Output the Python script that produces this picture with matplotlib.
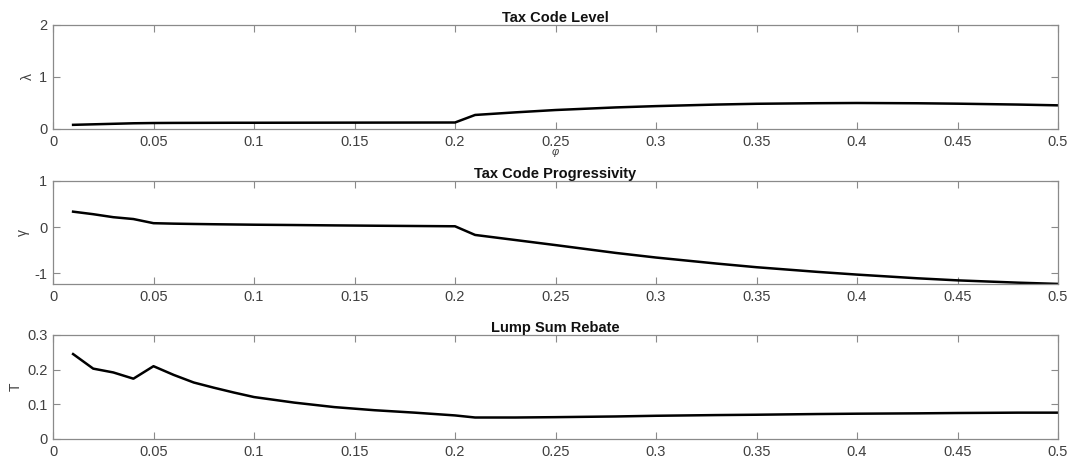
import numpy as np
import matplotlib
matplotlib.use('Agg')
import matplotlib.pyplot as plt

# phi grid
phi = [0.01, 0.02, 0.03, 0.04, 0.05, 0.06, 0.07, 0.08, 0.09, 0.10,
       0.12, 0.14, 0.16, 0.18, 0.20, 0.21, 0.23, 0.25, 0.28, 0.30,
       0.33, 0.35, 0.38, 0.40, 0.43, 0.45, 0.48, 0.50]

# tax code level lambda
lam = [0.080, 0.090, 0.100, 0.110, 0.115, 0.117, 0.118, 0.119, 0.120, 0.120,
       0.121, 0.122, 0.123, 0.124, 0.125, 0.270, 0.320, 0.365, 0.415, 0.440,
       0.470, 0.485, 0.496, 0.500, 0.495, 0.487, 0.470, 0.455]

# tax code progressivity gamma
gam = [0.335, 0.280, 0.215, 0.175, 0.085, 0.075, 0.068, 0.062, 0.057, 0.052,
       0.045, 0.037, 0.030, 0.024, 0.018, -0.170, -0.280, -0.390, -0.560, -0.660,
       -0.790, -0.870, -0.970, -1.030, -1.110, -1.155, -1.205, -1.232]

# lump sum rebate T
rebate = [0.245, 0.203, 0.192, 0.174, 0.210, 0.185, 0.163, 0.148, 0.134, 0.121,
          0.105, 0.092, 0.083, 0.076, 0.068, 0.062, 0.062, 0.063, 0.065, 0.067,
          0.069, 0.070, 0.072, 0.073, 0.074, 0.075, 0.076, 0.076]

plt.rcParams['font.family'] = ['Liberation Sans', 'DejaVu Sans']

fig = plt.figure(figsize=(10.77, 4.70), dpi=100)

left = 53 / 1077
width = 1005 / 1077
# (top px, bottom px) of each panel
boxes = [(25, 129), (181, 284), (335, 439)]

panels = [
    (lam, 'Tax Code Level', '\u03bb', (0, 2), [0, 1, 2], ['0', '1', '2']),
    (gam, 'Tax Code Progressivity', '\u03b3', (-1.234, 1), [-1, 0, 1], ['-1', '0', '1']),
    (rebate, 'Lump Sum Rebate', 'T', (0, 0.3), [0, 0.1, 0.2, 0.3], ['0', '0.1', '0.2', '0.3']),
]

xticks = np.arange(0, 0.501, 0.05)
xlabels = ['0', '0.05', '0.1', '0.15', '0.2', '0.25', '0.3', '0.35', '0.4', '0.45', '0.5']

spine = '#8a8a8a'
txt = '#404040'

for i, (vals, title, ylab, ylim, yt, ytl) in enumerate(panels):
    top, bot = boxes[i]
    ax = fig.add_axes([left, 1 - bot / 470, width, (bot - top) / 470])
    ax.plot(phi, vals, color='black', linewidth=1.8)
    ax.set_xlim(0, 0.5)
    ax.set_ylim(*ylim)
    ax.set_xticks(xticks)
    ax.set_xticklabels(xlabels)
    ax.set_yticks(yt)
    ax.set_yticklabels(ytl)
    ax.tick_params(direction='in', length=5, width=0.8, color=spine,
                   labelcolor=txt, labelsize=10.5, top=True, right=True)
    ax.tick_params(axis='x', pad=4)
    ax.tick_params(axis='y', pad=4)
    for s in ax.spines.values():
        s.set_color(spine)
        s.set_linewidth(0.9)
    ax.set_title(title, fontsize=10.5, fontweight='bold', color='#111111', pad=2)
    ax.set_ylabel(ylab, fontsize=10, color=txt, labelpad=3)
    if i == 0:
        # the phi label sits just under the 0.25 tick label, as in the original
        ax.set_xlabel('\u03c6', fontsize=8, color=txt, style='italic', labelpad=-1)

fig.savefig('out.png', dpi=100)
